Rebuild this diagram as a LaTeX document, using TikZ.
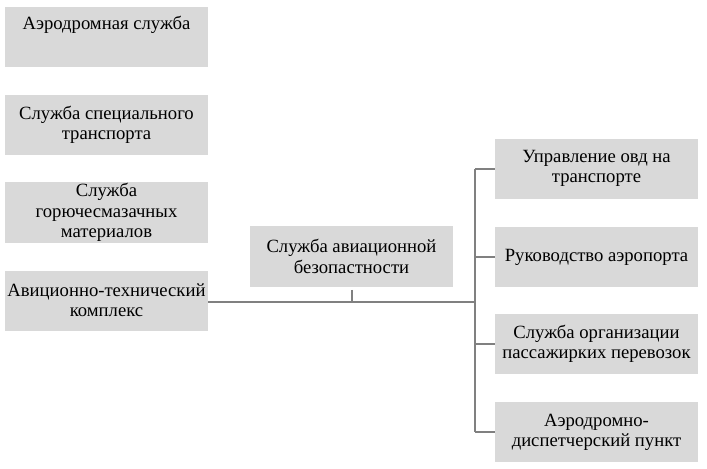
\documentclass[tikz,border=0pt]{standalone}
\usepackage{fontspec}
\setmainfont{Liberation Serif}
\definecolor{boxgray}{HTML}{D9D9D9}
\definecolor{linegray}{HTML}{808080}
\begin{document}
\begin{tikzpicture}[x=0.75pt,y=-0.75pt,
  box/.style={fill=boxgray, draw=none, minimum width=152.25pt, minimum height=45pt, inner sep=0pt, align=center, font=\fontsize{14}{15.2}\selectfont},
  txt/.style={inner sep=0pt, align=center, font=\fontsize{14}{15.2}\selectfont},
  conn/.style={draw=linegray, line width=1.5pt}]
\useasboundingbox[fill=white] (0,0) rectangle (707,468);
% left column
\node[box] (L1) at (106.5,36.5) {};
\node[txt, anchor=north] (T1) at (106.5,16) {Аэродромная служба};
\node[box] (L2) at (106.5,125) {Служба специального\\транспорта};
\node[box, minimum height=45.75pt] (L3) at (106.5,212.5) {Служба\\горючесмазачных\\материалов};
\node[box] (L4) at (106.5,300.5) {Авиционно-технический\\комплекс};
% center
\node[box, minimum height=45.75pt] (C) at (351.5,256.5) {Служба авиационной\\безопастности};
% right column
\node[box] (R1) at (596.5,168.5) {Управление овд на\\транспорте};
\node[box] (R2) at (596.5,257) {Руководство аэропорта};
\node[box] (R3) at (596.5,344) {Служба организации\\пассажирких перевозок};
\node[box] (R4) at (596.5,432) {Аэродромно-\\диспетчерский пункт};
% connectors
\coordinate (J) at (475,302);
\coordinate (Ltap) at (208,302);
\draw[conn] (Ltap) -- (J);
\draw[conn] ([yshift=-2pt]C.south) -- (C.south |- J);
\draw[conn] (R1.west -| J) -- (R4.west -| J);
\draw[conn] (R1.west -| J) -- (R1.west);
\draw[conn] (R2.west -| J) -- (R2.west);
\draw[conn] (R3.west -| J) -- (R3.west);
\draw[conn] (R4.west -| J) -- (R4.west);
\end{tikzpicture}
\end{document}
